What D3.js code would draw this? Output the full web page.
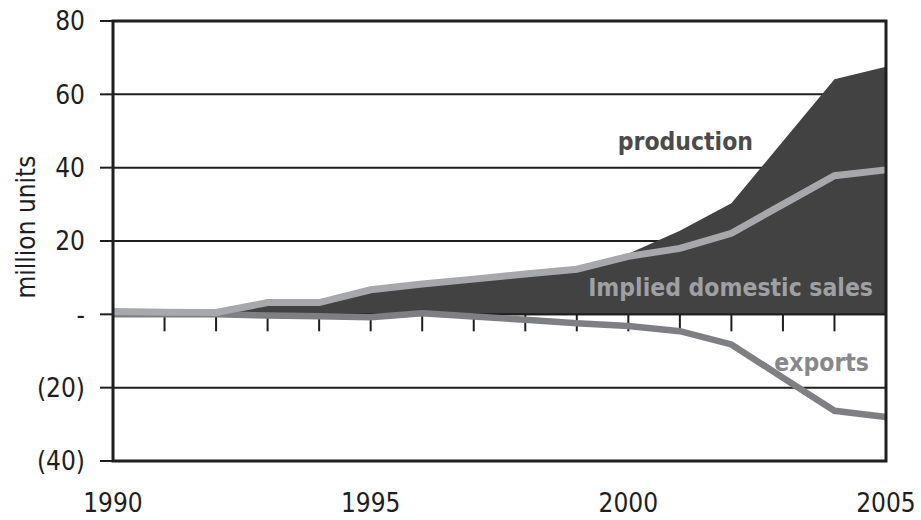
<!DOCTYPE html>
<html>
<head>
<meta charset="utf-8">
<script src="https://cdn.jsdelivr.net/npm/d3@7"></script>
<style>
  html, body { margin: 0; padding: 0; background: #ffffff; }
  svg { display: block; }
  text { font-family: "DejaVu Sans Condensed", "DejaVu Sans", sans-serif; }
</style>
</head>
<body>
<svg id="chart" width="921" height="520"></svg>
<script>
// Annual figures, million units
const years = [1990, 1991, 1992, 1993, 1994, 1995, 1996, 1997, 1998, 1999, 2000, 2001, 2002, 2003, 2004, 2005];
const production = [0.5, 0.4, 0.3, 2.8, 3.0, 6.0, 7.8, 9.2, 10.6, 12.2, 16.5, 22.8, 30.3, 47.2, 64.1, 67.5];
const domesticSales = [0.8, 0.6, 0.5, 3.2, 3.2, 6.7, 8.3, 9.6, 11.0, 12.3, 15.8, 18.0, 22.1, 30.0, 37.8, 39.4];
const exportsVol = [0.0, 0.0, 0.0, -0.3, -0.5, -0.8, 0.3, -0.6, -1.5, -2.4, -3.2, -4.6, -8.2, -17.3, -26.3, -28.0];

const yTicks = [-40, -20, 0, 20, 40, 60, 80];
const xLabelYears = [1990, 1995, 2000, 2005];
const yTickLabel = v => v === 0 ? "-" : v < 0 ? "(" + Math.abs(v) + ")" : String(v);

const svg = d3.select("#chart");
const plotLeft = 113, plotRight = 886, plotTop = 21, plotBottom = 461;

const x = d3.scaleLinear().domain([1990, 2005]).range([plotLeft, plotRight]);
const y = d3.scaleLinear().domain([-40, 80]).range([plotBottom, plotTop]);

const ink = "#1e1e1e";

// horizontal gridlines
svg.append("g")
  .selectAll("line")
  .data(yTicks)
  .join("line")
  .attr("x1", plotLeft).attr("x2", plotRight)
  .attr("y1", d => y(d)).attr("y2", d => y(d))
  .attr("stroke", ink).attr("stroke-width", 2);

// production area
const area = d3.area()
  .x((d, i) => x(years[i]))
  .y0(y(0))
  .y1(d => y(d));
svg.append("path")
  .datum(production)
  .attr("d", area)
  .attr("fill", "#424242");

// zero line and yearly ticks below it
svg.append("line")
  .attr("x1", plotLeft).attr("x2", plotRight)
  .attr("y1", y(0)).attr("y2", y(0))
  .attr("stroke", ink).attr("stroke-width", 2);
svg.append("g")
  .selectAll("line")
  .data(years.filter(v => v > 1990 && v < 2005))
  .join("line")
  .attr("x1", d => x(d)).attr("x2", d => x(d))
  .attr("y1", y(0)).attr("y2", y(0) + 17)
  .attr("stroke", ink).attr("stroke-width", 2);

// series lines
const line = d3.line().x((d, i) => x(years[i])).y(d => y(d));
svg.append("path")
  .datum(exportsVol)
  .attr("d", line)
  .attr("fill", "none")
  .attr("stroke", "#7e7f82")
  .attr("stroke-width", 6.5)
  .attr("stroke-linejoin", "miter");
svg.append("path")
  .datum(domesticSales)
  .attr("d", line)
  .attr("fill", "none")
  .attr("stroke", "#a7a8ab")
  .attr("stroke-width", 7)
  .attr("stroke-linejoin", "miter");

// frame
svg.append("rect")
  .attr("x", plotLeft).attr("y", plotTop)
  .attr("width", plotRight - plotLeft).attr("height", plotBottom - plotTop)
  .attr("fill", "none")
  .attr("stroke", ink).attr("stroke-width", 3);

// y axis ticks and labels
const yAxis = svg.append("g");
yAxis.selectAll("line")
  .data(yTicks)
  .join("line")
  .attr("x1", plotLeft - 13).attr("x2", plotLeft)
  .attr("y1", d => y(d)).attr("y2", d => y(d))
  .attr("stroke", ink).attr("stroke-width", 2);
yAxis.selectAll("text")
  .data(yTicks)
  .join("text")
  .attr("x", 85)
  .attr("y", d => y(d))
  .attr("dy", "0.36em")
  .attr("text-anchor", "end")
  .attr("font-size", 26)
  .attr("fill", ink)
  .text(yTickLabel);

// x axis labels
svg.append("g")
  .selectAll("text")
  .data(xLabelYears)
  .join("text")
  .attr("x", d => x(d))
  .attr("y", 512)
  .attr("text-anchor", "middle")
  .attr("font-size", 26)
  .attr("fill", ink)
  .text(d => d);

// y axis title
svg.append("text")
  .attr("transform", "translate(35,227) rotate(-90)")
  .attr("text-anchor", "middle")
  .attr("font-size", 26)
  .attr("fill", ink)
  .text("million units");

// series labels
svg.append("text")
  .attr("x", 753).attr("y", 150)
  .attr("text-anchor", "end")
  .attr("font-size", 24.5).attr("font-weight", "bold")
  .attr("fill", "#4b4b4b")
  .text("production");
svg.append("text")
  .attr("x", 873).attr("y", 296)
  .attr("text-anchor", "end")
  .attr("font-size", 24.5).attr("font-weight", "bold")
  .attr("fill", "#9fa0a3")
  .text("Implied domestic sales");
svg.append("text")
  .attr("x", 869).attr("y", 371)
  .attr("text-anchor", "end")
  .attr("font-size", 24.5).attr("font-weight", "bold")
  .attr("fill", "#87888b")
  .text("exports");
</script>
</body>
</html>
